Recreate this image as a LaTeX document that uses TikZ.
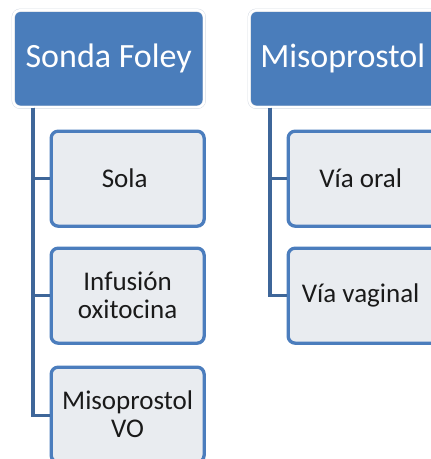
\documentclass[tikz,border=0pt]{standalone}
\usepackage{fontspec}
\setmainfont{Carlito}
\begin{document}
\begin{tikzpicture}[x=1pt,y=1pt,
  headbox/.style={anchor=north west, rectangle, rounded corners=7pt,
    fill=headblue, draw=framegray, double=white, double distance=2.4pt, line width=0.5pt,
    minimum width=191pt, minimum height=97pt, inner sep=0pt,
    text=white, font=\fontsize{34}{36}\selectfont},
  childbox/.style={anchor=north west, rectangle, rounded corners=7pt,
    fill=childfill, draw=childblue, line width=3.3pt,
    minimum width=153pt, minimum height=95pt, inner sep=0pt, align=center,
    text=textgray, font=\fontsize{27}{28}\selectfont},
  link/.style={draw=linkblue, line width=3.5pt}]
\definecolor{headblue}{HTML}{4A7DBB}
\definecolor{framegray}{HTML}{D6DCE4}
\definecolor{childfill}{HTML}{E9ECF0}
\definecolor{childblue}{HTML}{4B7DBD}
\definecolor{linkblue}{HTML}{3E6699}
\definecolor{textgray}{HTML}{1A1A1A}
\useasboundingbox (0,0) rectangle (431,-459);
\clip (0,0) rectangle (431,-459);
% left column
\node[headbox] (h1) at (13,-10) {Sonda Foley};
\node[childbox] (c1) at (49.5,-129.5) {Sola\hspace*{6pt}};
\node[childbox] (c2) at (49.5,-246.5) {Infusión\\oxitocina};
\node[childbox] (c3) at (49.5,-365.5) {Misoprostol\\VO};
% right column
\node[headbox] (h2) at (249,-10) {Misoprostol\hspace*{4pt}};
\node[childbox] (d1) at (286.5,-129.5) {Vía oral\hspace*{8pt}};
\node[childbox] (d2) at (286.5,-246.5) {Vía vaginal\hspace*{8pt}};
% connectors
\path[link] ([xshift=20pt]h1.south west) |- (c1.west);
\path[link] ([xshift=20pt]h1.south west) |- (c2.west);
\path[link] ([xshift=20pt]h1.south west) |- ([yshift=-1pt]c3.west);
\path[link] ([xshift=21pt]h2.south west) |- (d1.west);
\path[link] ([xshift=21pt]h2.south west) |- (d2.west);
\end{tikzpicture}
\end{document}
